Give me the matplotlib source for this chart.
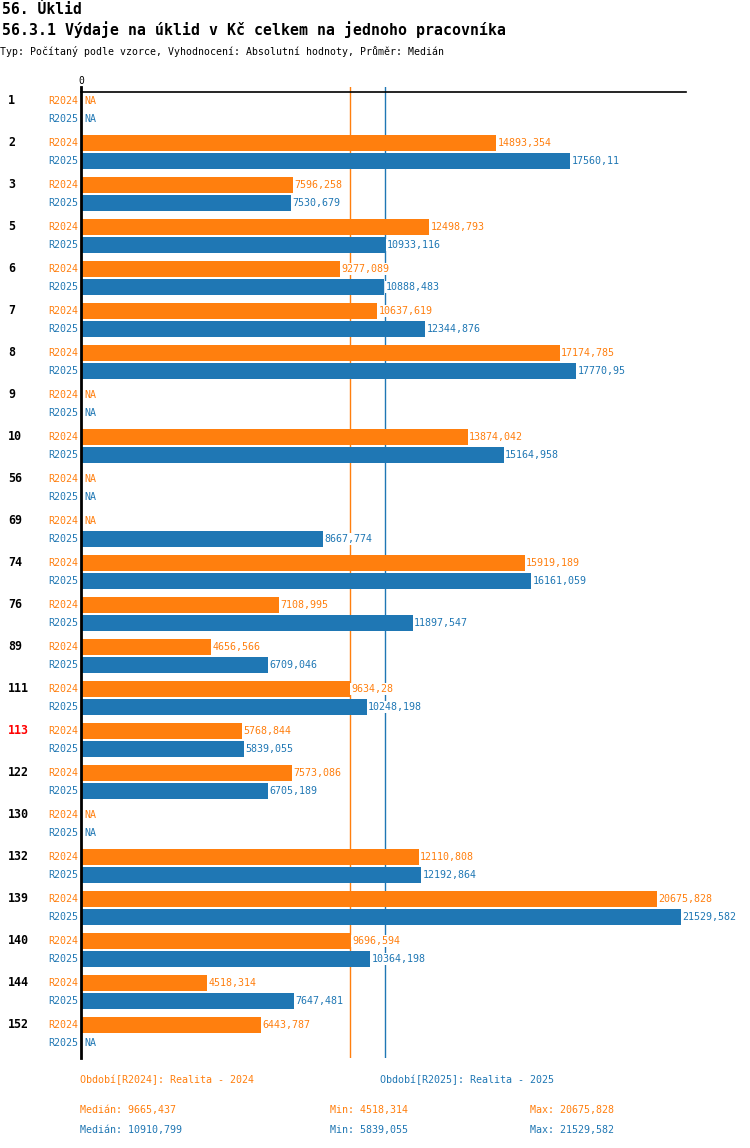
import matplotlib
matplotlib.use("Agg")
import matplotlib.pyplot as plt
import numpy as np

categories = ["1", "2", "3", "5", "6", "7", "8", "9", "10", "56", "69", "74", "76",
              "89", "111", "113", "122", "130", "132", "139", "140", "144", "152"]
highlight = "113"
series_names = ["R2024", "R2025"]
r2024 = [None, 14893.354, 7596.258, 12498.793, 9277.089, 10637.619, 17174.785, None,
         13874.042, None, None, 15919.189, 7108.995, 4656.566, 9634.28, 5768.844,
         7573.086, None, 12110.808, 20675.828, 9696.594, 4518.314, 6443.787]
r2025 = [None, 17560.11, 7530.679, 10933.116, 10888.483, 12344.876, 17770.95, None,
         15164.958, None, 8667.774, 16161.059, 11897.547, 6709.046, 10248.198, 5839.055,
         6705.189, None, 12192.864, 21529.582, 10364.198, 7647.481, None]
medians = [9665.437, 10910.799]
mins = [4518.314, 5839.055]
maxs = [20675.828, 21529.582]
period_labels = ["Období[R2024]: Realita - 2024", "Období[R2025]: Realita - 2025"]

colors = ["#ff7f0e", "#1f77b4"]
MONO = ["DejaVu Sans Mono"]

def fmt(v):
    s = f"{v:.3f}".rstrip("0").rstrip(".")
    return s.replace(".", ",")

W, H = 750, 1148
fig = plt.figure(figsize=(W / 100, H / 100), dpi=100)

x0, x1 = 81, 686
y_top, y_bot = 87, 1058
ax = fig.add_axes([x0 / W, 1 - y_bot / H, (x1 - x0) / W, (y_bot - y_top) / H])
ax.set_xlim(0, 21708)
ax.set_ylim(y_bot, y_top)
ax.axis("off")
px = 21708 / 605

# header
fig.text(2 / W, 1 - 14 / H, "56. Úklid", fontsize=10.6, fontweight="bold",
         family=MONO, va="baseline", ha="left")
fig.text(2 / W, 1 - 35 / H, "56.3.1 Výdaje na úklid v Kč celkem na jednoho pracovníka",
         fontsize=10.7, fontweight="bold", family=MONO, va="baseline", ha="left")
fig.text(0 / W, 1 - 55 / H,
         "Typ: Počítaný podle vzorce, Vyhodnocení: Absolutní hodnoty, Průměr: Medián",
         fontsize=7.1, family=MONO, va="baseline", ha="left")

# top axis line and zero
ax.plot([0, 21708], [92, 92], color="black", lw=1.2, clip_on=False, zorder=3)
ax.plot([0, 0], [y_top, y_bot], color="black", lw=2, clip_on=False, zorder=5)
ax.text(0, 81, "0", fontsize=7, family=MONO, ha="center", va="center")

# median lines
for m, c in zip(medians, colors):
    ax.plot([m, m], [y_top, y_bot], color=c, lw=1, zorder=1)

group_step = 42
row_step = 18
first_row = 101
bar_h = 16

for gi, cat in enumerate(categories):
    gy = first_row + gi * group_step
    ax.text(-73 * px, gy, cat, fontsize=8.4, fontweight="bold", family=MONO,
            color="red" if cat == highlight else "black", ha="left", va="center",
            clip_on=False)
    for si, (vals, c, name) in enumerate(zip([r2024, r2025], colors, series_names)):
        y = gy + si * row_step
        ax.text(-3 * px, y, name, fontsize=7.2, family=MONO, color=c,
                ha="right", va="center", clip_on=False)
        v = vals[gi]
        if v is None:
            ax.text(3 * px, y, "NA", fontsize=7.2, family=MONO, color=c,
                    ha="left", va="center", zorder=4)
        else:
            ax.barh(y, v, height=bar_h, color=c, zorder=2)
            ax.text(v + 1.5 * px, y, fmt(v), fontsize=7.2, family=MONO, color=c,
                    ha="left", va="center", zorder=4, clip_on=False,
                    bbox=dict(facecolor="white", edgecolor="none", pad=1.0))

# footer
fig.text(80 / W, 1 - 1080 / H, period_labels[0], fontsize=7.2, family=MONO,
         color=colors[0], va="center", ha="left")
fig.text(380 / W, 1 - 1080 / H, period_labels[1], fontsize=7.2, family=MONO,
         color=colors[1], va="center", ha="left")
for i, c in enumerate(colors):
    yy = 1 - (1110 + 20 * i) / H
    fig.text(80 / W, yy, "Medián: " + fmt(medians[i]), fontsize=7.2, family=MONO,
             color=c, va="center", ha="left")
    fig.text(330 / W, yy, "Min: " + fmt(mins[i]), fontsize=7.2, family=MONO,
             color=c, va="center", ha="left")
    fig.text(530 / W, yy, "Max: " + fmt(maxs[i]), fontsize=7.2, family=MONO,
             color=c, va="center", ha="left")

fig.savefig("out.png", dpi=100, facecolor="white")
